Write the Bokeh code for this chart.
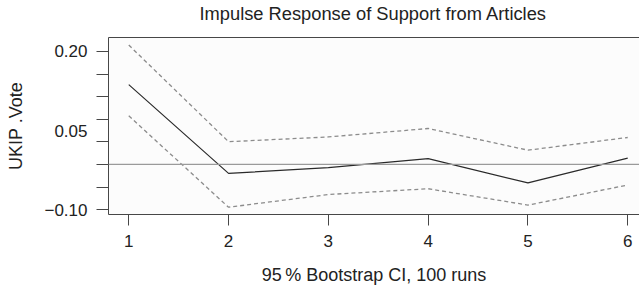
from bokeh.plotting import figure
from bokeh.models import FixedTicker, LinearAxis, Span, Range1d
from bokeh.embed import file_html
from bokeh.resources import INLINE

# ---- data ----
lags = [1, 2, 3, 4, 5, 6]
irf = [0.137, -0.031, -0.020, -0.003, -0.049, -0.002]
upper = [0.212, 0.029, 0.038, 0.054, 0.013, 0.037]
lower = [0.078, -0.095, -0.071, -0.060, -0.091, -0.053]
ref_line = -0.014
y_tick_values = [0.20, 0.05, -0.10]
y_tick_labels = ["0.20", "0.05", "\u22120.10"]
y_minor_ticks = [0.20, 0.157, 0.114, 0.071, 0.029, -0.014, -0.057, -0.10]

FONT = "Liberation Sans"
AX = "#474747"
TXT = "#222222"

p = figure(width=639, height=287, x_range=Range1d(0.797, 6.118),
           y_range=Range1d(-0.1088, 0.2263),
           output_backend="svg", toolbar_location=None,
           min_border_left=108, min_border_right=0,
           min_border_top=0, min_border_bottom=0,
           title="Impulse Response of Support from Articles")

p.title.text_font = FONT
p.title.text_font_size = "18.3px"
p.title.text_font_style = "normal"
p.title.text_color = TXT
p.title.align = "left"
p.title.offset = 91
p.title.standoff = 1

p.grid.visible = False
p.outline_line_color = None
p.background_fill_color = "#fcfcfc"
p.border_fill_color = "#ffffff"

# zero / reference line
p.add_layout(Span(location=ref_line, dimension="width", line_color="#9a9a9a", line_width=1.2))

p.line(lags, upper, line_color="#8c8c8c", line_width=1.3, line_dash="4 3")
p.line(lags, lower, line_color="#8c8c8c", line_width=1.3, line_dash="4 3")
p.line(lags, irf, line_color="#2a2a2a", line_width=1.2)

# x axis
xa = p.xaxis[0]
xa.ticker = FixedTicker(ticks=lags, minor_ticks=[])
xa.axis_label = "95\u2009% Bootstrap CI, 100 runs"
xa.axis_label_text_font = FONT
xa.axis_label_text_font_size = "18px"
xa.axis_label_text_font_style = "normal"
xa.axis_label_text_color = TXT
xa.axis_label_standoff = 15
xa.major_label_text_font = FONT
xa.major_label_text_font_size = "17px"
xa.major_label_text_color = TXT
xa.major_label_standoff = 9
xa.major_tick_out = 11
xa.major_tick_in = 0
xa.axis_line_color = AX
xa.major_tick_line_color = AX

# y axis
ya = p.yaxis[0]
ya.ticker = FixedTicker(ticks=y_tick_values, minor_ticks=y_minor_ticks)
ya.major_label_overrides = {v: s for v, s in zip(y_tick_values, y_tick_labels)}
ya.axis_label = "UKIP .Vote"
ya.axis_label_text_font = FONT
ya.axis_label_text_font_size = "18px"
ya.axis_label_text_font_style = "normal"
ya.axis_label_text_color = TXT
ya.axis_label_standoff = 15
ya.major_label_text_font = FONT
ya.major_label_text_font_size = "17px"
ya.major_label_text_color = TXT
ya.major_label_standoff = 9
ya.major_tick_out = 12
ya.major_tick_in = 0
ya.major_tick_line_color = None
ya.minor_tick_out = 12
ya.minor_tick_in = 0
ya.minor_tick_line_color = AX
ya.axis_line_color = AX

# top border (frame top line, with a little spacing below the title)
top = LinearAxis(ticker=FixedTicker(ticks=[], minor_ticks=[]),
                 axis_line_color=AX, major_tick_line_color=None,
                 minor_tick_line_color=None, major_label_text_font_size="0px",
                 major_tick_out=0, minor_tick_out=0, major_label_standoff=0,
                 axis_label=" ", axis_label_text_font_size="2px",
                 axis_label_standoff=8)
p.add_layout(top, "above")

open("out.html", "w").write(file_html(p, INLINE))
